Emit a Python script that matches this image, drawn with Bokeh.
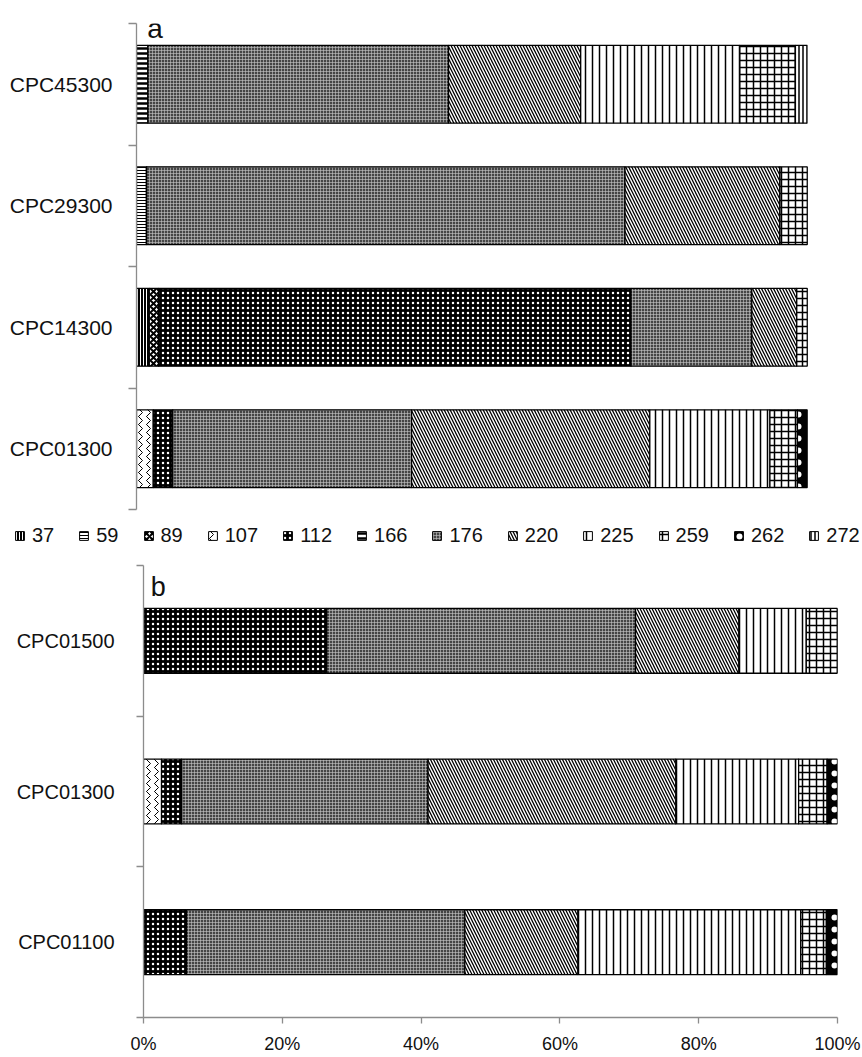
from bokeh.plotting import figure
from bokeh.models import (ColumnDataSource, Range1d, FixedTicker, Legend, LegendItem,
                          Label, LinearAxis)
from bokeh.layouts import column
from bokeh.transform import stack
from bokeh.embed import file_html
from bokeh.resources import INLINE

# ---------------- data ----------------
series = ["37", "59", "89", "107", "112", "166", "176", "220", "225", "259", "262", "272"]

# panel a, categories bottom -> top
cats_a = ["CPC01300", "CPC14300", "CPC29300", "CPC45300"]
a_37 = [0.0, 1.9, 0.0, 0.0]
a_59 = [0.0, 0.0, 1.5, 0.0]
a_89 = [0.0, 1.4, 0.0, 0.0]
a_107 = [2.5, 0.0, 0.0, 0.0]
a_112 = [2.9, 70.4, 0.0, 0.0]
a_166 = [0.0, 0.0, 0.0, 1.7]
a_176 = [35.6, 18.0, 71.3, 44.8]
a_220 = [35.5, 6.7, 23.1, 19.7]
a_225 = [17.9, 0.0, 0.0, 23.7]
a_259 = [4.1, 1.6, 4.1, 8.3]
a_262 = [1.5, 0.0, 0.0, 0.0]
a_272 = [0.0, 0.0, 0.0, 1.8]

# panel b, categories bottom -> top
cats_b = ["CPC01100", "CPC01300", "CPC01500"]
b_107 = [0.0, 2.6, 0.0]
b_112 = [6.2, 2.9, 26.4]
b_176 = [40.1, 35.5, 44.5]
b_220 = [16.3, 35.7, 14.9]
b_225 = [32.1, 17.7, 9.7]
b_259 = [3.7, 4.1, 4.5]
b_262 = [1.6, 1.5, 0.0]

x_ticks = [0, 20, 40, 60, 80, 100]
x_tick_labels = ["0%", "20%", "40%", "60%", "80%", "100%"]

data_a = {"37": a_37, "59": a_59, "89": a_89, "107": a_107, "112": a_112, "166": a_166,
          "176": a_176, "220": a_220, "225": a_225, "259": a_259, "262": a_262, "272": a_272}
data_b = {"107": b_107, "112": b_112, "176": b_176, "220": b_220, "225": b_225,
          "259": b_259, "262": b_262}

# ---------------- styles ----------------
FONT = "Liberation Sans"
GRAY = "#8c8c8c"
TXT = "#111111"

styles = {
    "37":  dict(fill_color="black", hatch_pattern="vertical_line", hatch_color="white", hatch_scale=3, hatch_weight=1),
    "59":  dict(fill_color="white", hatch_pattern="horizontal_line", hatch_color="black", hatch_scale=3, hatch_weight=1),
    "89":  dict(fill_color="white", hatch_pattern="diagonal_cross", hatch_color="black", hatch_scale=6, hatch_weight=2),
    "107": dict(fill_color="white", hatch_pattern="vertical_wave", hatch_color="black", hatch_scale=8, hatch_weight=1),
    "112": dict(fill_color="black", hatch_pattern="dot", hatch_color="white", hatch_scale=5, hatch_weight=2),
    "166": dict(fill_color="white", hatch_pattern="horizontal_line", hatch_color="black", hatch_scale=5, hatch_weight=2.5),
    "176": dict(fill_color="#454545", hatch_pattern="cross", hatch_color="#c8c8c8", hatch_scale=3, hatch_weight=0.6),
    "220": dict(fill_color="white", hatch_pattern="left_diagonal_line", hatch_color="black", hatch_scale=6, hatch_weight=1.3),
    "225": dict(fill_color="white", hatch_pattern="vertical_line", hatch_color="black", hatch_scale=7, hatch_weight=1.5),
    "259": dict(fill_color="white", hatch_pattern="cross", hatch_color="black", hatch_scale=7, hatch_weight=1.5),
    "262": dict(fill_color="black", hatch_pattern="dot", hatch_color="white", hatch_scale=12, hatch_weight=1),
    "272": dict(fill_color="white", hatch_pattern="vertical_line", hatch_color="black", hatch_scale=4, hatch_weight=1.5),
}


def no_align(p):
    try:
        p.frame_align = False
    except Exception:
        pass


def make_source(cats, data):
    cols = {"y": [i + 0.5 for i in range(len(cats))]}
    keys = [k for k in series if k in data]
    for k in keys:
        cols["s" + k] = data[k]
    return ColumnDataSource(cols), keys


def draw_stack(p, src, keys, bar_height, lw=1.3):
    renderers = {}
    prev = []
    for k in keys:
        cur = prev + ["s" + k]
        r = p.hbar(y="y", height=bar_height, left=stack(*prev), right=stack(*cur), source=src,
                   line_color="black", line_width=lw, **styles[k])
        renderers[k] = r
        prev = cur
    return renderers


def cat_axis(cats, tick_len, standoff, size):
    centers = [i + 0.5 for i in range(len(cats))]
    bounds = list(range(len(cats) + 1))
    ax = LinearAxis(ticker=FixedTicker(ticks=centers, minor_ticks=bounds),
                    major_label_overrides={c: lab for c, lab in zip(centers, cats)},
                    major_tick_out=0, major_tick_in=0,
                    minor_tick_out=tick_len, minor_tick_in=0,
                    axis_line_color=GRAY, minor_tick_line_color=GRAY, major_tick_line_color=None,
                    axis_line_width=1.3, minor_tick_line_width=1.3,
                    major_label_standoff=standoff,
                    major_label_text_font=FONT, major_label_text_font_size=size,
                    major_label_text_color=TXT)
    return ax


# ---------------- panel a ----------------
pa = figure(width=862, height=511, output_backend="svg", toolbar_location=None,
            x_range=Range1d(0, 100), y_range=Range1d(0, len(cats_a)),
            x_axis_location=None, y_axis_location=None,
            min_border_left=136, min_border_right=55, min_border_top=23, min_border_bottom=2)
no_align(pa)
pa.outline_line_color = None
pa.grid.visible = False
pa.add_layout(cat_axis(cats_a, 8, 16, "21px"), "left")
src_a, keys_a = make_source(cats_a, data_a)
draw_stack(pa, src_a, keys_a, 0.64)
pa.add_layout(Label(x=1.6, y=len(cats_a) - 0.038, text="a", text_font=FONT, text_font_size="28px",
                    text_color=TXT, text_baseline="alphabetic"))

# ---------------- legend strip ----------------
# same series drawn again, but both ranges lie beyond the data, so only the legend keys show
pl = figure(width=862, height=40, output_backend="svg", toolbar_location=None,
            x_range=Range1d(101, 201), y_range=Range1d(10, 14),
            x_axis_location=None, y_axis_location=None,
            min_border_left=0, min_border_right=0, min_border_top=0, min_border_bottom=0)
no_align(pl)
pl.outline_line_color = None
pl.grid.visible = False
src_l, _ = make_source(cats_a, data_a)
leg_rend = draw_stack(pl, src_l, keys_a, 0.64, lw=1)
legend = Legend(items=[LegendItem(label=k, renderers=[leg_rend[k]]) for k in series],
                orientation="horizontal", location=(14, 4),
                label_text_font=FONT, label_text_font_size="20px", label_text_color=TXT,
                glyph_width=11, glyph_height=11, label_standoff=7, spacing=24,
                padding=0, margin=0, border_line_color=None, background_fill_alpha=0)
pl.add_layout(legend, "center")

# ---------------- panel b ----------------
pb = figure(width=862, height=505, output_backend="svg", toolbar_location=None,
            x_range=Range1d(0, 100), y_range=Range1d(0, len(cats_b)),
            x_axis_location=None, y_axis_location=None,
            min_border_left=143, min_border_right=25, min_border_top=14, min_border_bottom=37)
no_align(pb)
pb.outline_line_color = None
pb.grid.visible = False
pb.add_layout(cat_axis(cats_b, 7, 22, "20px"), "left")
xax = LinearAxis(ticker=FixedTicker(ticks=x_ticks, minor_ticks=[]),
                 major_label_overrides={t: lab for t, lab in zip(x_ticks, x_tick_labels)},
                 major_tick_out=6, major_tick_in=0, minor_tick_out=0, minor_tick_in=0,
                 axis_line_color=GRAY, major_tick_line_color=GRAY, minor_tick_line_color=None,
                 axis_line_width=1.3, major_tick_line_width=1.3,
                 major_label_standoff=10, major_label_text_font=FONT,
                 major_label_text_font_size="18px", major_label_text_color=TXT)
pb.add_layout(xax, "below")
src_b, keys_b = make_source(cats_b, data_b)
draw_stack(pb, src_b, keys_b, 0.43)
pb.add_layout(Label(x=1.05, y=len(cats_b) - 0.143, text="b", text_font=FONT, text_font_size="27px",
                    text_color=TXT, text_baseline="alphabetic"))

layout = column(pa, pl, pb, spacing=0)
open("out.html", "w").write(file_html(layout, INLINE))
